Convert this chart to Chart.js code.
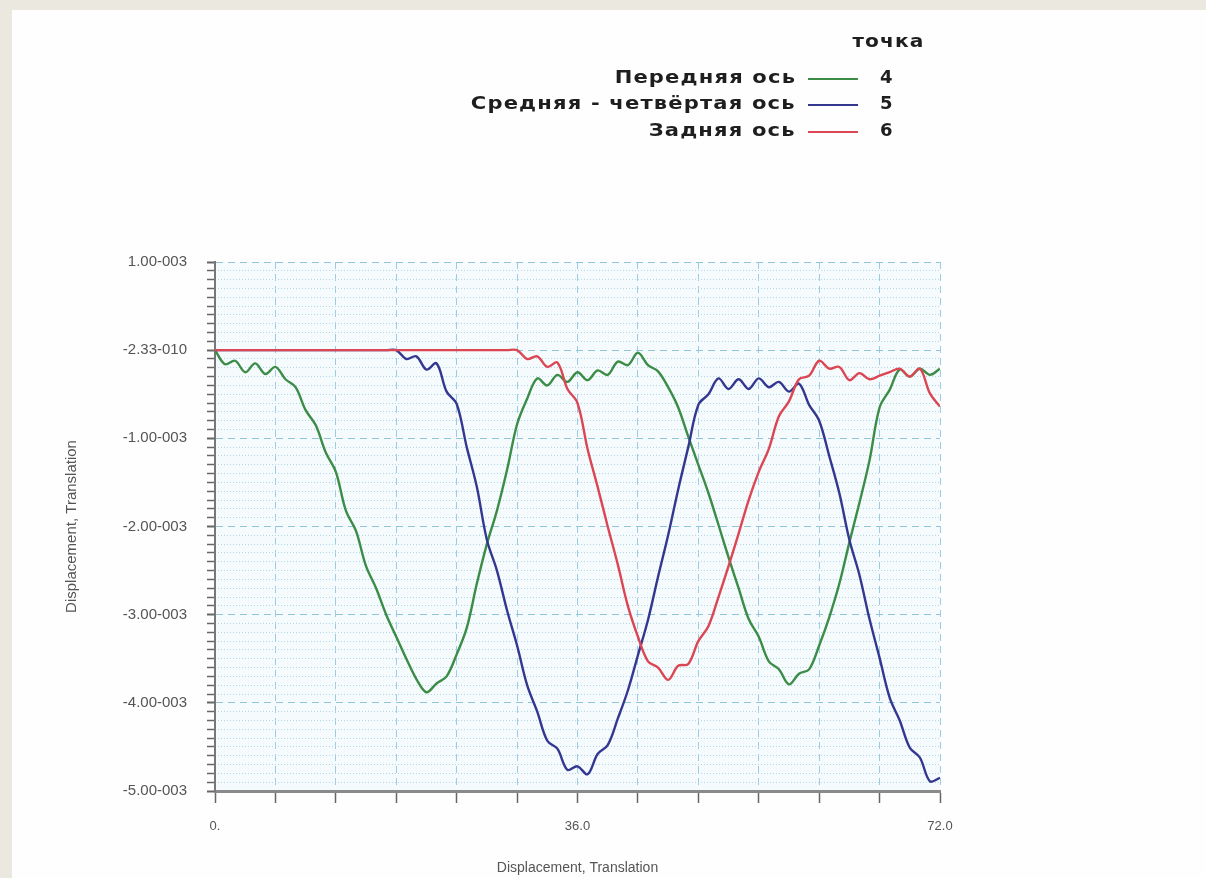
<!DOCTYPE html>
<html lang="ru">
<head>
<meta charset="utf-8">
<title>Displacement, Translation</title>
<script src="https://cdn.jsdelivr.net/npm/chart.js@4.4.1/dist/chart.umd.min.js"></script>
<style>
  html, body { margin: 0; padding: 0; }
  body {
    width: 1206px; height: 878px; overflow: hidden; position: relative;
    background: #ebe8df;
    font-family: "Liberation Sans", Arial, sans-serif;
  }
  .panel { position: absolute; left: 12px; top: 10px; right: 0; bottom: 0; background: #fefefe; }
  #chart { position: absolute; left: 0; top: 0; }
  .legend { position: absolute; left: 0; top: 0; width: 1206px; font-family: "DejaVu Sans", sans-serif; font-weight: bold; font-size: 18px; color: #1e1e1e; letter-spacing: 1px; }
  .legend .head { position: absolute; right: 281px; top: 30px; white-space: nowrap; transform: scaleX(1.12); transform-origin: right center; }
  .legend .row { position: absolute; left: 0; width: 796px; white-space: nowrap; }
  .legend .name { position: absolute; right: 0; top: 0; text-align: right; transform: scaleX(1.17); transform-origin: right center; }
  .legend .swatch { position: absolute; width: 50px; height: 2px; top: 12px; left: 808px; }
  .legend .num { position: absolute; left: 880px; top: 0; }
</style>
</head>
<body>
<div class="panel"></div>
<canvas id="chart" width="1206" height="878"></canvas>
<div class="legend" id="legend"></div>
<script>
  // positions along the track (x axis)
  const positions = [
    0, 1, 2, 3, 4, 5, 6, 7, 8, 9,
    10, 11, 12, 13, 14, 15, 16, 17, 18, 19,
    20, 21, 22, 23, 24, 25, 26, 27, 28, 29,
    30, 31, 32, 33, 34, 35, 36, 37, 38, 39,
    40, 41, 42, 43, 44, 45, 46, 47, 48, 49,
    50, 51, 52, 53, 54, 55, 56, 57, 58, 59,
    60, 61, 62, 63, 64, 65, 66, 67, 68, 69,
    70, 71, 72
  ];

  // displacement values, in units of 1e-3
  const frontAxle = [
    0, -0.16, -0.12, -0.25, -0.15, -0.27, -0.19, -0.33, -0.42, -0.68,
    -0.85, -1.16, -1.38, -1.82, -2.05, -2.45, -2.70, -3.00, -3.25, -3.50,
    -3.73, -3.88, -3.78, -3.70, -3.45, -3.15, -2.65, -2.20, -1.82, -1.36,
    -0.84, -0.55, -0.32, -0.40, -0.28, -0.36, -0.25, -0.34, -0.23, -0.28,
    -0.13, -0.17, -0.03, -0.17, -0.24, -0.42, -0.65, -0.98, -1.30, -1.62,
    -1.98, -2.35, -2.70, -3.05, -3.25, -3.53, -3.62, -3.79, -3.67, -3.62,
    -3.35, -3.03, -2.65, -2.18, -1.73, -1.25, -0.65, -0.45, -0.22, -0.30,
    -0.21, -0.28, -0.21
  ];
  const middleAxle = [
    0, 0, 0, 0, 0, 0, 0, 0, 0, 0,
    0, 0, 0, 0, 0, 0, 0, 0, 0, -0.10,
    -0.07, -0.22, -0.15, -0.47, -0.61, -1.10, -1.55, -2.15, -2.50, -2.95,
    -3.35, -3.80, -4.10, -4.43, -4.52, -4.76, -4.72, -4.81, -4.58, -4.48,
    -4.18, -3.86, -3.46, -3.06, -2.57, -2.10, -1.58, -1.10, -0.62, -0.50,
    -0.32, -0.44, -0.33, -0.44, -0.32, -0.42, -0.36, -0.47, -0.38, -0.62,
    -0.80, -1.20, -1.62, -2.15, -2.55, -3.05, -3.49, -3.94, -4.20, -4.51,
    -4.62, -4.89, -4.85
  ];
  const rearAxle = [
    0, 0, 0, 0, 0, 0, 0, 0, 0, 0,
    0, 0, 0, 0, 0, 0, 0, 0, 0, 0,
    0, 0, 0, 0, 0, 0, 0, 0, 0, 0,
    0, -0.10, -0.07, -0.19, -0.14, -0.44, -0.60, -1.12, -1.55, -2.00,
    -2.43, -2.90, -3.25, -3.53, -3.60, -3.74, -3.58, -3.56, -3.30, -3.13,
    -2.80, -2.45, -2.08, -1.70, -1.38, -1.12, -0.75, -0.58, -0.33, -0.29,
    -0.12, -0.21, -0.19, -0.34, -0.26, -0.33, -0.29, -0.25, -0.21, -0.30,
    -0.21, -0.49, -0.64
  ];

  const seriesNames = ['Передняя ось', 'Средняя - четвёртая ось', 'Задняя ось'];
  const seriesPoints = ['4', '5', '6'];
  const seriesColors = ['#3b8c46', '#33378f', '#dc4653'];
  const legendTitle = 'точка';

  const xTickLabels = {0: '0.', 36: '36.0', 72: '72.0'};
  const yTickLabels = {
    1: '1.00-003', 0: '-2.33-010', '-1': '-1.00-003', '-2': '-2.00-003',
    '-3': '-3.00-003', '-4': '-4.00-003', '-5': '-5.00-003'
  };
  const axisTitle = 'Displacement, Translation';

  // html legend, laid out like the original (name, line, point number)
  const legend = document.getElementById('legend');
  const head = document.createElement('div');
  head.className = 'head';
  head.textContent = legendTitle;
  legend.appendChild(head);
  const rowTops = [66, 92, 119];
  seriesNames.forEach((name, i) => {
    const row = document.createElement('div');
    row.className = 'row';
    row.style.top = rowTops[i] + 'px';
    row.innerHTML =
      '<span class="name"></span>' +
      '<span class="swatch" style="background:' + seriesColors[i] + '"></span>' +
      '<span class="num"></span>';
    row.querySelector('.name').textContent = name;
    row.querySelector('.num').textContent = seriesPoints[i];
    legend.appendChild(row);
  });

  function toPoints(values) {
    return values.map((v, i) => ({x: positions[i], y: v}));
  }

  const isWhole = v => Math.abs(v - Math.round(v)) < 1e-6;

  const plotBackground = {
    id: 'plotBackground',
    beforeDraw(chart) {
      const {ctx, chartArea: a} = chart;
      ctx.save();
      ctx.fillStyle = '#f5fafd';
      ctx.fillRect(a.left, a.top, a.right - a.left, a.bottom - a.top);
      ctx.restore();
    }
  };

  const lineStyle = {
    borderWidth: 2.4,
    pointRadius: 0,
    tension: 0.35,
    fill: false
  };

  new Chart(document.getElementById('chart'), {
    type: 'line',
    data: {
      datasets: [
        Object.assign({label: seriesNames[0], data: toPoints(frontAxle), borderColor: seriesColors[0], order: 3}, lineStyle),
        Object.assign({label: seriesNames[1], data: toPoints(middleAxle), borderColor: seriesColors[1], order: 2}, lineStyle),
        Object.assign({label: seriesNames[2], data: toPoints(rearAxle), borderColor: seriesColors[2], order: 1}, lineStyle)
      ]
    },
    options: {
      responsive: false,
      animation: false,
      layout: {padding: {left: 0, top: 262, right: 266, bottom: 0}},
      plugins: {legend: {display: false}, tooltip: {enabled: false}},
      scales: {
        x: {
          type: 'linear',
          min: 0,
          max: 72,
          afterFit(scale) { scale.height = 87; },
          ticks: {
            stepSize: 6,
            autoSkip: false,
            maxRotation: 0,
            padding: 16,
            color: '#555',
            font: {family: '"Liberation Sans", Arial, sans-serif', size: 13},
            callback: v => xTickLabels[v] || ''
          },
          grid: {color: '#9ccbe3', lineWidth: 1, tickColor: '#666', tickLength: 12, tickWidth: 1.5},
          border: {display: true, color: '#8a8a8a', width: 3, dash: [7, 5]},
          title: {
            display: true,
            text: axisTitle,
            color: '#555',
            font: {family: '"Liberation Sans", Arial, sans-serif', size: 14},
            padding: {top: 0, bottom: 1}
          }
        },
        y: {
          type: 'linear',
          min: -5,
          max: 1,
          afterFit(scale) { scale.width = 215; },
          ticks: {
            stepSize: 0.1,
            autoSkip: false,
            padding: 20,
            color: '#555',
            font: {family: '"Liberation Sans", Arial, sans-serif', size: 15},
            callback: v => isWhole(v) ? (yTickLabels[Math.round(v)] || '') : ''
          },
          grid: {
            color: ctx => isWhole(ctx.tick.value) ? '#93c4de' : 'rgba(0,0,0,0)',
            tickColor: '#666',
            tickLength: 8,
            tickWidth: ctx => isWhole(ctx.tick.value) ? 2 : 1.5
          },
          border: {display: true, color: '#777', width: 2, dash: [7, 5]},
          title: {
            display: true,
            text: axisTitle,
            color: '#555',
            font: {family: '"Liberation Sans", Arial, sans-serif', size: 15},
            padding: {top: 63, bottom: 0}
          }
        },
        yMinor: {
          type: 'linear',
          position: 'left',
          min: -5,
          max: 1,
          afterFit(scale) { scale.width = 0; },
          ticks: {display: false, stepSize: 0.1},
          grid: {
            drawTicks: false,
            color: ctx => isWhole(ctx.tick.value) ? 'rgba(0,0,0,0)' : '#b3d5e8',
            lineWidth: 1
          },
          border: {display: false, dash: [1, 2]}
        }
      }
    },
    plugins: [plotBackground]
  });
</script>
</body>
</html>
